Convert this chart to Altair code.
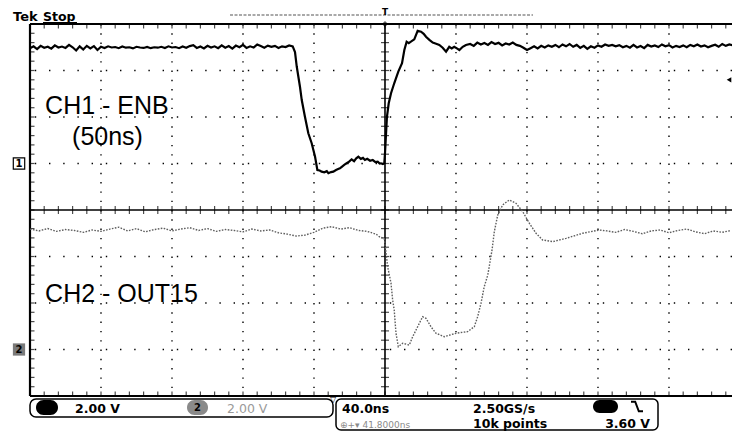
import altair as alt
import pandas as pd

# Scope settings
NS_PER_DIV = 40.0
VOLTS_PER_DIV = 2.0
CH1_OFFSET_DIV = 1.0      # CH1 ground marker, divisions from centre
CH2_OFFSET_DIV = -3.0     # CH2 ground marker
TRIG_LEVEL = 3.60
SAMPLE_RATE = "2.50GS/s"
RECORD_LEN = "10k points"
TRIG_POS = "41.8000ns"

# CH1 - ENB (time in ns, volts)
ch1_t = [-200, -198, -196, -194, -192, -190, -188, -186, -184, -182, -180, -178, -176, -174, -172,
         -170, -168, -166, -164, -162, -160, -158, -156, -154, -152, -150, -148, -146, -144, -142,
         -140, -138, -136, -134, -132, -130, -128, -126, -124, -122, -120, -118, -116, -114, -112,
         -110, -108, -106, -104, -102, -100, -98, -96, -94, -92, -90, -88, -86, -84, -82,
         -80, -78, -76, -74, -72, -70, -68, -66, -64, -62, -60, -58, -56, -54, -52,
         -50.7, -49.7, -47.9, -46.9, -45.1, -43.2, -41.3, -39.4, -38.1, -36.8, -35.7, -34.2,
         -32.8, -31.9, -30.4, -29.1, -27.6, -26.4, -25.4, -24.0, -22.8, -21.6, -20.2, -18.8,
         -17.4, -16.2, -15.0, -13.6, -12.4, -11.3, -10.0, -8.4, -6.9, -5.4, -4.1, -3.0, -2.3,
         -1.2, -0.4, 0.0, 0.6, 1.1, 2.1, 3.4, 5.2, 7.5, 9.6, 10.9, 12.2, 13.4, 14.6, 16.5,
         18.4, 20.3, 21.8, 23.1, 25.0, 26.9, 28.8, 30.6, 32.5, 34.4, 36.2, 37.6, 39.0, 40.5,
         41.9, 43.8, 45.6,
         48, 50, 52, 54, 56, 58, 60, 62, 64, 66, 68, 70, 72, 74, 76, 78, 80, 82, 84, 86, 88,
         90, 92, 94, 96, 98, 100, 102, 104, 106, 108, 110, 112, 114, 116, 118, 120, 122, 124,
         126, 128, 130, 132, 134, 136, 138, 140, 142, 144, 146, 148, 150, 152, 154, 156, 158,
         160, 162, 164, 166, 168, 170, 172, 174, 176, 178, 180, 182, 184, 186, 188, 190, 192,
         194, 196]
ch1_v = [4.96, 5.04, 4.92, 5.06, 4.98, 5.02, 4.94, 5.08, 4.99, 5.03, 4.97, 5.10, 5.00, 4.86, 5.04,
         4.90, 5.06, 4.95, 5.05, 4.88, 5.02, 4.97, 5.04, 4.99, 5.01, 4.96, 5.03, 4.98, 5.00, 4.95,
         5.02, 4.99, 4.97, 5.01, 4.96, 5.00, 4.98, 5.02, 4.97, 5.04, 4.99, 5.01, 4.96, 5.03, 4.98,
         5.05, 5.09, 4.97, 5.03, 4.95, 5.06, 4.99, 5.04, 4.96, 5.08, 4.98, 5.05, 4.94, 5.07, 5.00,
         5.10, 4.97, 5.04, 4.99, 5.12, 5.05, 4.98, 5.07, 5.02, 5.06, 4.97, 5.04, 5.01, 5.08, 5.04,
         4.79, 4.16, 3.30, 2.73, 2.01, 1.30, 0.87, 0.29, -0.28, -0.30, -0.35, -0.38,
         -0.33, -0.42, -0.37, -0.35, -0.28, -0.24, -0.21, -0.12, -0.05, 0.01, 0.08, 0.18,
         0.10, 0.22, 0.29, 0.20, 0.24, 0.15, 0.20, 0.12, 0.15, 0.06, 0.08, 0.00, 0.01,
         -0.02, 0.01, 0.44, 1.30, 2.01, 2.59, 3.02, 3.45, 3.95, 4.31, 4.88, 5.24, 5.18, 5.24, 5.34,
         5.71, 5.67, 5.58, 5.45, 5.32, 5.20, 5.15, 5.10, 4.98, 4.81, 5.02, 4.95, 5.02, 4.95,
         4.88, 5.02, 5.10,
         5.14, 5.06, 5.20, 5.12, 5.18, 5.10, 5.22, 5.14, 5.19, 5.08, 5.16, 5.12, 5.20, 5.10, 5.06,
         4.98, 4.88, 4.96, 5.04, 4.95, 5.06, 4.99, 5.08, 5.02, 5.10, 5.00, 5.12, 5.04, 5.14, 5.02,
         5.10, 4.97, 5.06, 4.93, 5.04, 4.98, 5.08, 5.02, 5.12, 5.06, 5.10, 5.04, 5.09, 5.00, 5.06,
         4.98, 5.10, 4.99, 5.05, 4.96, 5.10, 5.03, 5.08, 5.01, 5.12, 5.04, 5.09, 4.99, 5.06, 5.01,
         5.08, 5.00, 5.10, 5.04, 5.12, 5.03, 5.08, 5.00, 5.06, 5.11, 5.02, 5.14, 5.06, 5.12, 5.08]

# CH2 - OUT15 (time in ns, volts)
ch2_t = [-200, -195, -190, -185, -180, -175, -170, -165, -160, -155, -150, -145, -140, -135,
         -130, -125, -120, -115, -110, -105, -100, -95, -90, -85, -80, -75, -70, -65, -60, -55,
         -50, -45, -40, -35, -30, -25, -20, -15, -10, -5, -3.2, -0.4,
         1.5, 3.4, 4.3, 5.2, 6.2, 7.5, 10.0, 13.7, 15.6, 18.4, 21.2, 23.1, 25.9, 28.7, 33.4,
         40.0, 46.6, 50.3, 52.2, 54.1, 55.9, 57.9, 59.2, 60.3, 61.6, 63.5, 66.3, 70.0, 73.8,
         77.6, 81.3, 85.1, 88.8, 94.5, 102.0, 111.4, 120.7,
         125, 130, 135, 140, 145, 150, 155, 160, 165, 170, 175, 180, 185, 190, 195]
ch2_v = [5.18, 5.10, 5.20, 5.08, 5.16, 5.12, 5.04, 5.14, 5.08, 5.18, 5.26, 5.10, 5.20, 5.06,
         5.16, 5.22, 5.10, 5.18, 5.24, 5.12, 5.20, 5.08, 5.16, 5.12, 5.06, 5.18, 5.10, 5.14, 5.02,
         4.96, 4.88, 4.92, 5.04, 5.22, 5.28, 5.18, 5.24, 5.12, 5.08, 4.96, 4.85, 4.78,
         3.56, 2.85, 2.13, 1.70, 0.70, 0.12, 0.27, 0.19, 0.55, 0.98, 1.41, 1.34, 0.98, 0.70, 0.55,
         0.70, 0.77, 0.98, 1.41, 1.99, 2.70, 3.20, 3.78, 4.28, 5.07, 5.78, 6.22, 6.43, 6.29,
         5.93, 5.43, 5.00, 4.71, 4.64, 4.78, 5.00, 5.14,
         5.10, 5.04, 5.16, 5.08, 4.98, 5.10, 5.14, 5.02, 5.12, 5.18, 5.06, 4.98, 5.10, 5.04, 5.12]

# graticule lines (dotted), in ns and divisions
grid_t = [-160, -120, -80, -40, 40, 80, 120, 160]
grid_d = [-3, -2, -1, 1, 2, 3]

X_MIN = -5 * NS_PER_DIV
X_MAX = 195.5            # the screen stops just short of the last graticule line
W, H = 702, 372
DIV_PX_X = W / ((X_MAX - X_MIN) / NS_PER_DIV)
DIV_PX_Y = H / 8

xs = alt.Scale(domain=[X_MIN, X_MAX], nice=False, zero=False)
ys = alt.Scale(domain=[-4, 4], nice=False, zero=False)
one = pd.DataFrame({"n": [1]})

FONT = "DejaVu Sans"
LABEL_FONT = "Liberation Sans"

ch1 = (
    alt.Chart(pd.DataFrame({"t": ch1_t, "v": ch1_v}))
    .transform_calculate(div=f"datum.v / {VOLTS_PER_DIV} + {CH1_OFFSET_DIV}")
    .mark_line(color="black", strokeWidth=2.2, clip=True)
    .encode(x=alt.X("t:Q", scale=xs, axis=None), y=alt.Y("div:Q", scale=ys, axis=None))
)

ch2 = (
    alt.Chart(pd.DataFrame({"t": ch2_t, "v": ch2_v}))
    .transform_calculate(div=f"datum.v / {VOLTS_PER_DIV} + {CH2_OFFSET_DIV}")
    .mark_line(color="#5f5f5f", strokeWidth=1.4, strokeDash=[1.6, 1.4], clip=True)
    .encode(x=alt.X("t:Q", scale=xs, axis=None), y=alt.Y("div:Q", scale=ys, axis=None))
)

# dotted graticule: one dot per minor division
dot = 1.4
grid_v = alt.Chart(pd.DataFrame({"t": grid_t})).mark_rule(
    color="black", strokeWidth=1.4, strokeDash=[dot, DIV_PX_Y / 5 - dot]).encode(
    x=alt.X("t:Q", scale=xs, axis=None))
grid_h = alt.Chart(pd.DataFrame({"d": grid_d})).mark_rule(
    color="black", strokeWidth=1.4, strokeDash=[dot, DIV_PX_X / 5 - dot]).encode(
    y=alt.Y("d:Q", scale=ys, axis=None))

# centre cross and frame
h_lines = alt.Chart(pd.DataFrame({"d": [0]})).mark_rule(color="black", strokeWidth=1.6).encode(
    y=alt.Y("d:Q", scale=ys, axis=None))
frame_h = alt.Chart(pd.DataFrame({"d": [-4, 4]})).mark_rule(color="black", strokeWidth=2.2).encode(
    y=alt.Y("d:Q", scale=ys, axis=None))
v_lines = alt.Chart(pd.DataFrame({"t": [0]})).mark_rule(color="black", strokeWidth=1.6).encode(
    x=alt.X("t:Q", scale=xs, axis=None))
frame_v = alt.Chart(pd.DataFrame({"t": [X_MIN]})).mark_rule(color="black", strokeWidth=2.2).encode(
    x=alt.X("t:Q", scale=xs, axis=None))

# minor ticks (5 per division) on the centre lines and on the frame
minor_t = alt.sequence(X_MIN, X_MAX, NS_PER_DIV / 5, as_="t")
minor_d = alt.sequence(-4, 4.05, 0.2, as_="d")


def t_ticks(level, size, clip):
    return alt.Chart(minor_t).mark_tick(orient="vertical", size=size, thickness=1.2,
                                        color="black", clip=clip).encode(
        x=alt.X("t:Q", scale=xs, axis=None), y=alt.YDatum(level, axis=None))


def d_ticks(pos, size, clip):
    return alt.Chart(minor_d).mark_tick(orient="horizontal", size=size, thickness=1.2,
                                        color="black", clip=clip).encode(
        y=alt.Y("d:Q", scale=ys, axis=None), x=alt.XDatum(pos, axis=None))


ticks = [t_ticks(0, 8, False), t_ticks(4, 9, True), t_ticks(-4, 9, True),
         d_ticks(0, 8, False), d_ticks(X_MIN, 9, True)]


# channel labels
def label(text, t, d):
    return alt.Chart(one).mark_text(text=text, font=LABEL_FONT, fontSize=25, align="left",
                                    baseline="alphabetic", color="black").encode(
        x=alt.XDatum(t, axis=None), y=alt.YDatum(d, axis=None))


labels = [label("CH1 - ENB", -191.5, 2.075), label("(50ns)", -176.3, 1.40),
          label("CH2 - OUT15", -191.5, -1.97)]

# trigger level arrow on the right edge
trig = alt.Chart(one).mark_point(shape="triangle-left", filled=True, size=28, color="black",
                                 opacity=1).encode(
    x=alt.value(W - 3), y=alt.YDatum(TRIG_LEVEL / VOLTS_PER_DIV + CH1_OFFSET_DIV, axis=None))

# ground markers at the left edge
gnd1_box = alt.Chart(one).mark_point(shape="square", filled=False, size=130, color="black",
                                     strokeWidth=1.2, opacity=1).encode(
    x=alt.value(-11), y=alt.YDatum(CH1_OFFSET_DIV, axis=None))
gnd1_txt = alt.Chart(one).mark_text(text="1", font=FONT, fontSize=10, fontWeight="bold",
                                    baseline="middle", color="black").encode(
    x=alt.value(-11), y=alt.YDatum(CH1_OFFSET_DIV, axis=None))
gnd2_box = alt.Chart(one).mark_point(shape="square", filled=True, size=150, color="#7a7a7a",
                                     opacity=1).encode(
    x=alt.value(-11), y=alt.YDatum(CH2_OFFSET_DIV, axis=None))
gnd2_txt = alt.Chart(one).mark_text(text="2", font=FONT, fontSize=10, fontWeight="bold",
                                    baseline="middle", color="black").encode(
    x=alt.value(-11), y=alt.YDatum(CH2_OFFSET_DIV, axis=None))


# header and status bar, placed in screen pixels around the graticule
def px_text(text, x, y, size=12.5, weight="bold", color="black", align="left", font=FONT):
    return alt.Chart(one).mark_text(text=text, font=font, fontSize=size, fontWeight=weight,
                                    color=color, align=align, baseline="alphabetic").encode(
        x=alt.value(x), y=alt.value(y))


def px_rect(x, x2, y, y2, radius, fill=None, stroke=None, sw=1.5):
    kw = dict(cornerRadius=radius)
    if fill is not None:
        kw["fill"] = fill
    else:
        kw["fillOpacity"] = 0
    if stroke is not None:
        kw["stroke"] = stroke
        kw["strokeWidth"] = sw
    return alt.Chart(one).mark_rect(**kw).encode(
        x=alt.value(x), x2=alt.value(x2), y=alt.value(y), y2=alt.value(y2))


header = [
    px_text("Tek", -17, -3, size=13),
    px_text("Stop", 13, -3, size=12.5),
    alt.Chart(one).mark_rule(color="black", strokeWidth=1).encode(
        x=alt.value(13), x2=alt.value(47), y=alt.value(-1.5)),
    alt.Chart(one).mark_rule(color="#555", strokeWidth=1.2, strokeDash=[3, 1.5]).encode(
        x=alt.value(200), x2=alt.value(503), y=alt.value(-9)),
    px_text("T", 355, -9, size=9, align="center"),
    alt.Chart(one).mark_point(shape="diamond", filled=False, size=22, color="black",
                              strokeWidth=1, opacity=1).encode(x=alt.value(355), y=alt.value(0)),
]

vdiv = f"{VOLTS_PER_DIV:.2f} V"
status = [
    px_rect(0, 303, 375, 393, 6, stroke="black"),
    px_rect(6, 28, 376, 391, 7.5, fill="black"),
    px_text(vdiv, 45, 389),
    px_rect(157, 178, 376, 391, 7.5, fill="#8a8a8a"),
    px_text("2", 167.5, 387, size=10, align="center"),
    px_text(vdiv, 197, 389, weight="normal", color="#9a9a9a"),
    px_rect(306, 628, 375, 406, 5, stroke="black"),
    px_text("▽", 303, 378, size=8, weight="normal", align="center"),
    px_text(f"{NS_PER_DIV:.1f}ns", 312, 389),
    px_text(SAMPLE_RATE, 443, 389),
    px_rect(563, 588, 376, 389, 6.5, fill="black"),
    alt.Chart(one).mark_point(shape="M -1 -0.8 L -0.3 -0.8 L 0.3 0.8 L 1 0.8", filled=False,
                              size=144, color="black", strokeWidth=2, opacity=1).encode(
        x=alt.value(607), y=alt.value(382.5)),
    px_text("⊕+▾ " + TRIG_POS, 310, 404, size=9, weight="normal", color="#8a8a8a"),
    px_text(RECORD_LEN, 443, 404),
    px_text(f"{TRIG_LEVEL:.2f} V", 620, 404, align="right"),
]

chart = alt.layer(
    grid_v, grid_h, h_lines, v_lines, *ticks, frame_h, frame_v, ch2, ch1, *labels, trig,
    gnd1_box, gnd1_txt, gnd2_box, gnd2_txt, *header, *status,
).properties(
    width=W, height=H,
    padding={"left": 30, "top": 24, "right": 0, "bottom": 35},
    autosize=alt.AutoSizeParams(type="none"),
    background="white",
).configure_view(strokeWidth=0)

chart.save("out.html", embed_options={"renderer": "svg", "actions": False})
